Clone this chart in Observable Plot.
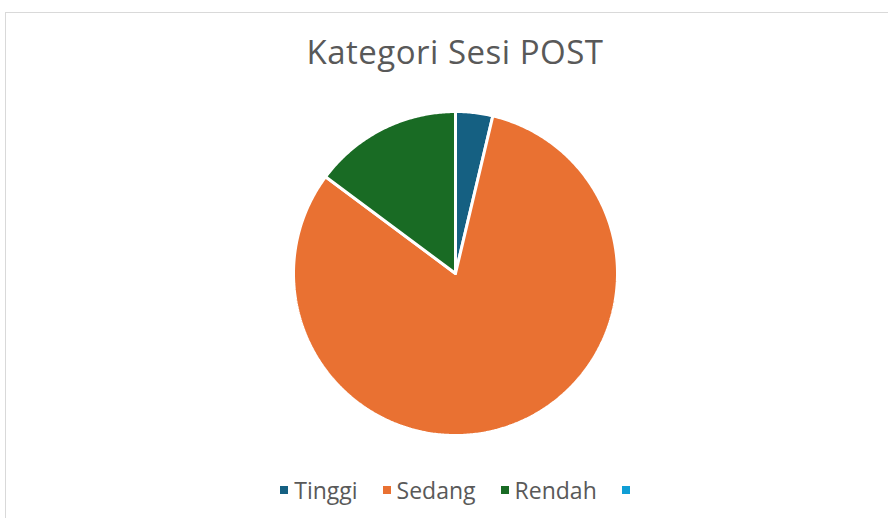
<!DOCTYPE html>
<html>
<head>
<meta charset="utf-8">
<script src="https://cdn.jsdelivr.net/npm/d3@7"></script>
<script src="https://cdn.jsdelivr.net/npm/@observablehq/plot@0.6"></script>
<style>
  html, body { margin: 0; padding: 0; background: #fff; width: 888px; height: 518px; overflow: hidden; }
  #frame { position: absolute; left: 5px; top: 12px; width: 900px; height: 520px; border-left: 1px solid #d9d9d9; border-top: 1px solid #d9d9d9; }
  #chart { position: absolute; left: 0; top: 0; }
  #title { position: absolute; left: 0; width: 910px; top: 29px; text-align: center; font-family: "Open Sans", sans-serif; font-size: 33px; letter-spacing: 0.5px; color: #595959; }
  #legend { position: absolute; left: 0; width: 916px; top: 474px; display: flex; justify-content: center; gap: 25px; font-family: "Open Sans", sans-serif; font-size: 23px; color: #595959; }
  .item { display: flex; align-items: center; gap: 6px; }
  .sw { width: 8px; height: 8px; display: inline-block; }
</style>
</head>
<body>
<div id="frame"></div>
<div id="chart"></div>
<div id="title">Kategori Sesi POST</div>
<div id="legend"></div>
<script>
const categories = ["Tinggi", "Sedang", "Rendah", ""];
const values = [1, 22, 4, 0];
const colors = ["#156082", "#E97132", "#196B24", "#0F9ED5"];

const W = 888, H = 518, cx = 455, cy = 273, R = 162;
const total = d3.sum(values);
const pts = [];
let acc = 0;
categories.forEach((c, i) => {
  const v = values[i];
  if (v <= 0) return;
  const a0 = acc / total * 2 * Math.PI;
  acc += v;
  const a1 = acc / total * 2 * Math.PI;
  const n = Math.max(2, Math.ceil((a1 - a0) / 0.01));
  pts.push({cat: c, x: 0, y: 0});
  for (let k = 0; k <= n; k++) {
    const a = a0 + (a1 - a0) * k / n;
    pts.push({cat: c, x: Math.sin(a), y: Math.cos(a)});
  }
  pts.push({cat: c, x: 0, y: 0});
});

const chart = Plot.plot({
  width: W, height: H,
  margin: 0,
  x: {domain: [-cx / R, (W - cx) / R], axis: null},
  y: {domain: [-(H - cy) / R, cy / R], axis: null},
  color: {domain: categories, range: colors},
  marks: [
    Plot.line(pts, {x: "x", y: "y", z: "cat", fill: "cat", stroke: "white", strokeWidth: 3, strokeLinejoin: "miter", curve: "linear"})
  ]
});
document.getElementById("chart").appendChild(chart);

const legend = document.getElementById("legend");
categories.forEach((c, i) => {
  const it = document.createElement("div");
  it.className = "item";
  it.innerHTML = `<span class="sw" style="background:${colors[i]}"></span><span>${c}</span>`;
  legend.appendChild(it);
});
</script>
</body>
</html>
